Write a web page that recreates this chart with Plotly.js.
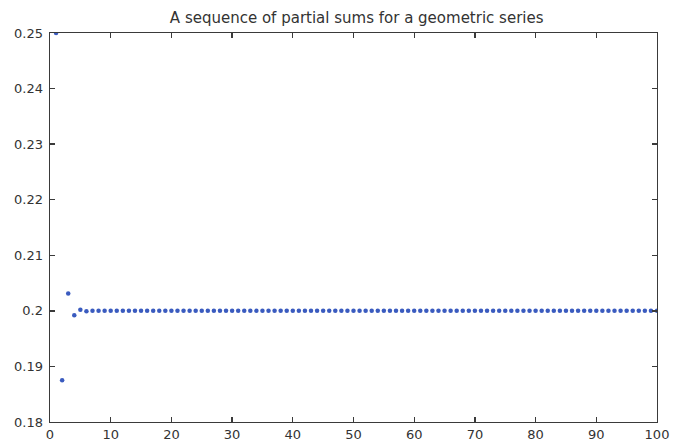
<!DOCTYPE html>
<html>
<head>
<meta charset="utf-8">
<script src="https://cdn.plot.ly/plotly-3.0.1.min.js"></script>
<style>html,body{margin:0;padding:0;background:#fff;}#chart{width:673px;height:441px;}</style>
</head>
<body>
<div id="chart"></div>
<script>
// Term index n and partial sums S_n of the geometric series with a = 1/4, r = -1/4
const termIndex = [
  1,2,3,4,5,6,7,8,9,10,11,12,13,14,15,16,17,18,19,20,
  21,22,23,24,25,26,27,28,29,30,31,32,33,34,35,36,37,38,39,40,
  41,42,43,44,45,46,47,48,49,50,51,52,53,54,55,56,57,58,59,60,
  61,62,63,64,65,66,67,68,69,70,71,72,73,74,75,76,77,78,79,80,
  81,82,83,84,85,86,87,88,89,90,91,92,93,94,95,96,97,98,99,100
];
const partialSums = [
  0.25, 0.1875, 0.203125, 0.19921875, 0.2001953, 0.1999512, 0.2000122, 0.1999969, 0.2000008, 0.1999998,
  0.2, 0.2, 0.2, 0.2, 0.2, 0.2, 0.2, 0.2, 0.2, 0.2,
  0.2, 0.2, 0.2, 0.2, 0.2, 0.2, 0.2, 0.2, 0.2, 0.2,
  0.2, 0.2, 0.2, 0.2, 0.2, 0.2, 0.2, 0.2, 0.2, 0.2,
  0.2, 0.2, 0.2, 0.2, 0.2, 0.2, 0.2, 0.2, 0.2, 0.2,
  0.2, 0.2, 0.2, 0.2, 0.2, 0.2, 0.2, 0.2, 0.2, 0.2,
  0.2, 0.2, 0.2, 0.2, 0.2, 0.2, 0.2, 0.2, 0.2, 0.2,
  0.2, 0.2, 0.2, 0.2, 0.2, 0.2, 0.2, 0.2, 0.2, 0.2,
  0.2, 0.2, 0.2, 0.2, 0.2, 0.2, 0.2, 0.2, 0.2, 0.2,
  0.2, 0.2, 0.2, 0.2, 0.2, 0.2, 0.2, 0.2, 0.2, 0.2
];
const xTicks = [0,10,20,30,40,50,60,70,80,90,100];
const yTicks = [0.18,0.19,0.2,0.21,0.22,0.23,0.24,0.25];
const yTickText = ['0.18','0.19','0.2','0.21','0.22','0.23','0.24','0.25'];

const axisCommon = {
  showgrid: false, zeroline: false,
  showline: true, linecolor: '#3a3a3a', linewidth: 1.4, mirror: 'ticks',
  ticks: 'inside', ticklen: 5, tickwidth: 1.4, tickcolor: '#3a3a3a',
  tickfont: {family: 'DejaVu Sans, sans-serif', size: 13, color: '#333'}
};

Plotly.newPlot('chart', [{
  x: termIndex,
  y: partialSums,
  type: 'scatter',
  mode: 'markers',
  marker: {symbol: 'circle', size: 4.5, color: '#3a5bbf'},
  hoverinfo: 'x+y'
}], {
  width: 673, height: 441,
  margin: {l: 50, r: 16, t: 33, b: 19},
  paper_bgcolor: '#fff', plot_bgcolor: '#fff',
  showlegend: false,
  title: {
    text: 'A sequence of partial sums for a geometric series',
    font: {family: 'DejaVu Sans, sans-serif', size: 15, color: '#333'},
    x: 0.53, xanchor: 'center', y: 0.96, yanchor: 'middle'
  },
  xaxis: Object.assign({}, axisCommon, {
    range: [0, 100], tickvals: xTicks, ticklabelstandoff: 0
  }),
  yaxis: Object.assign({}, axisCommon, {
    range: [0.18, 0.25], tickvals: yTicks, ticktext: yTickText, ticklabelstandoff: 3
  })
}, {displayModeBar: false, staticPlot: true});
</script>
</body>
</html>
